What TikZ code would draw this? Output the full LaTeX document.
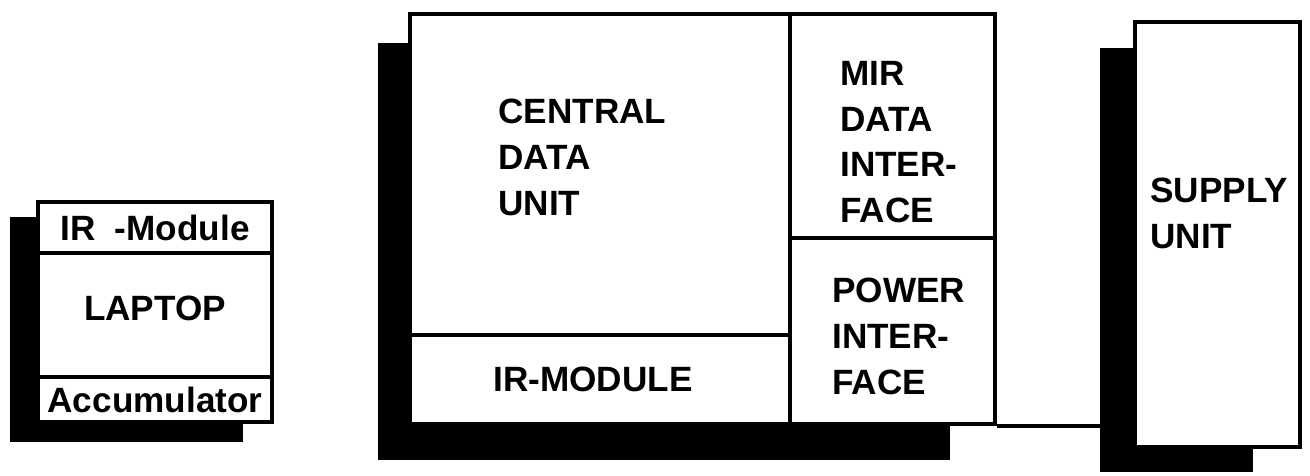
\documentclass[tikz,border=0pt]{standalone}
\usepackage{fontspec}
\setmainfont{Liberation Sans}
\usepackage{tikz}
\usetikzlibrary{fit,positioning}

\begin{document}
\begin{tikzpicture}[x=0.02cm,y=-0.02cm,
  font=\fontsize{20}{26}\selectfont\bfseries,
  shade/.style={fill=black,draw=none,inner sep=0pt},
  box/.style={draw=black,fill=white,line width=2.4pt,inner sep=0pt},
  txt/.style={anchor=north west,align=left,inner sep=0pt}]
  \useasboundingbox (0,0) rectangle (1310,476);
  % laptop
  \node[shade,fit={(10,217) (243,442)}] (lapshade) {};
  \node[box,fit={(38,202) (272,253)},label=center:{IR\ \ -Module}] (lapir) {};
  \node[box,fit={(38,253) (272,377)},label={[yshift=4pt]center:LAPTOP}] (laptop) {};
  \node[box,fit={(38,377) (272,422)},label=center:Accumulator] (accu) {};
  % central unit
  \node[shade,fit={(378,43) (950,460)}] (cdushade) {};
  \node[box,fit={(410,14) (790,335)}] (cdu) {};
  \node[box,fit={(410,335) (790,424)},label={[xshift=-4pt]center:IR-MODULE}] (irmod) {};
  \node[box,fit={(790,14) (995,238)}] (mir) {};
  \node[box,fit={(790,238) (995,424)}] (power) {};
  \node[txt] (cdutext) at (498,99) {CENTRAL\\DATA\\UNIT};
  \node[txt] (mirtext) at (840,61) {MIR\\DATA\\INTER-\\FACE};
  \node[txt] (powertext) at (832,278) {POWER\\INTER-\\FACE};
  % supply unit
  \node[shade,fit={(1100,48) (1253,472)}] (supshade) {};
  \node[box,fit={(1135,22) (1300,447)}] (supply) {};
  \node[txt] (suptext) at (1150,178) {SUPPLY\\UNIT};
  \draw[line width=2.4pt] (power.south east) -- (power.south east -| supshade.west);
\end{tikzpicture}
\end{document}
